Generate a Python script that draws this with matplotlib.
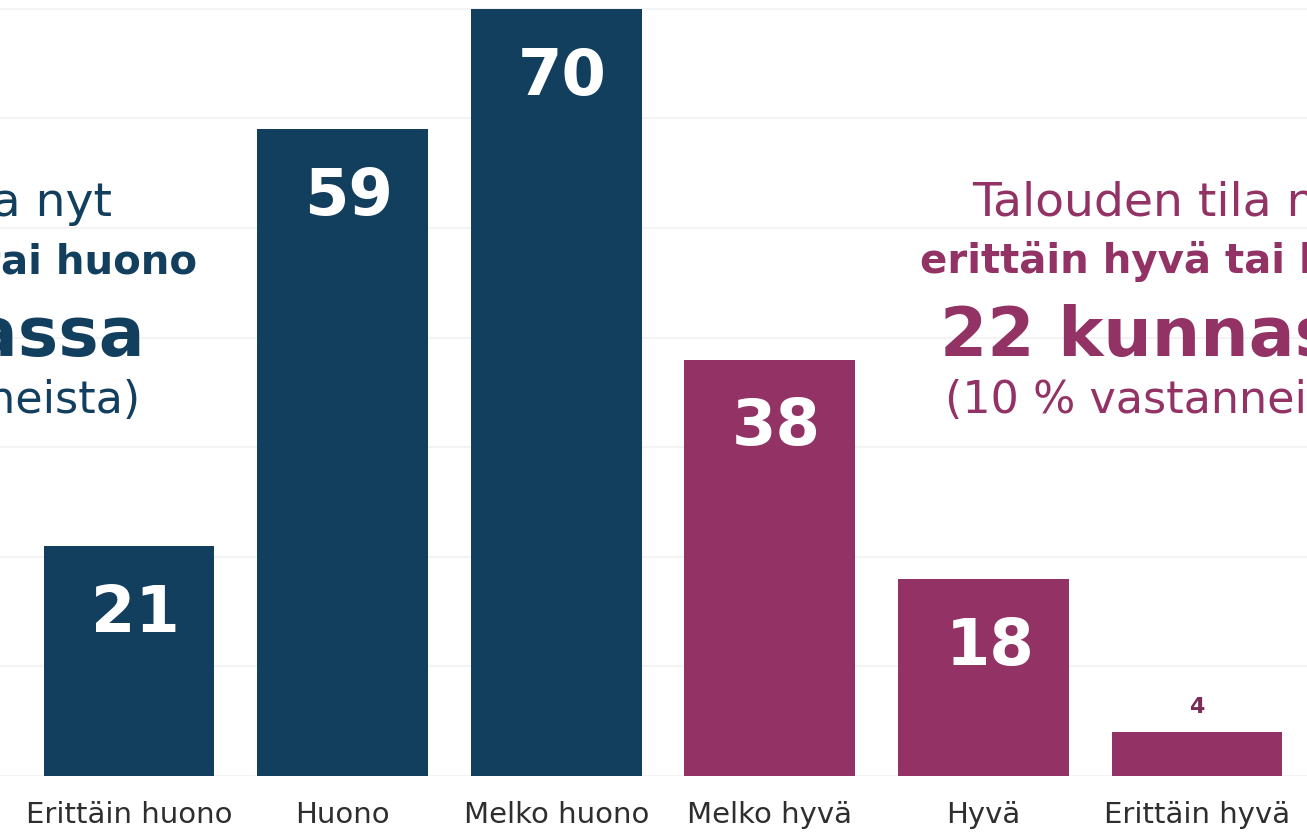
import matplotlib
matplotlib.use("Agg")
import matplotlib.pyplot as plt

categories = ["Erittäin huono", "Huono", "Melko huono", "Melko hyvä", "Hyvä", "Erittäin hyvä"]
values = [21, 59, 70, 38, 18, 4]
groups = ["neg", "neg", "neg", "pos", "pos", "pos"]

left_lines = ["Talouden tila nyt", "erittäin huono tai huono", "80 kunnassa", "(38 % vastanneista)"]
right_lines = ["Talouden tila nyt", "erittäin hyvä tai hyvä", "22 kunnassa", "(10 % vastanneista)"]

NAVY = "#133F5F"
PURPLE = "#923265"
colors = {"neg": NAVY, "pos": PURPLE}

W, H = 1307, 835
fig = plt.figure(figsize=(W / 100, H / 100), dpi=100)
ax = fig.add_axes([0, 1 - 776 / H, 1, 776 / H])

x = list(range(len(categories)))
ax.bar(x, values, width=0.8, color=[colors[g] for g in groups], zorder=3)

ax.set_xlim(-0.604, 5.515)
ax.set_ylim(0, 70.8)
ax.set_yticks(range(0, 71, 10))
ax.set_yticklabels([])
ax.yaxis.grid(True, color="#f3f3f3", linewidth=1.5, zorder=0)
ax.tick_params(axis="y", length=0)
ax.set_xticks(x)
ax.set_xticklabels(categories, fontsize=21, color="#2e2e2e", family="DejaVu Sans")
ax.tick_params(axis="x", length=0, pad=18)
for s in ax.spines.values():
    s.set_visible(False)

for xi, v, g in zip(x, values, groups):
    if v >= 10:
        ax.text(xi + 0.03, v - 6.2, str(v), ha="center", va="center", color="white",
                fontsize=46, fontweight="bold", family="DejaVu Sans", zorder=4)
    else:
        ax.text(xi, v + 2.3, str(v), ha="center", va="center", color="#7a2d55",
                fontsize=16, fontweight="bold", family="DejaVu Sans", zorder=4)

def fy(px):
    return 1 - px / H

fam = "DejaVu Sans"
specs = [  # (fontsize, weight, baseline px)
    (34, "normal", 216),
    (29, "bold", 273),
    (49, "bold", 356),
    (32, "normal", 413),
]
left_ends = [112, 197, 145, 140]
right_starts = [972, 920, 940, 945]

for line, (fs, fw, by), xe in zip(left_lines, specs, left_ends):
    fig.text(xe / W, fy(by), line, ha="right", va="baseline", fontsize=fs,
             fontweight=fw, color=NAVY, family=fam)
for line, (fs, fw, by), xs in zip(right_lines, specs, right_starts):
    fig.text(xs / W, fy(by), line, ha="left", va="baseline", fontsize=fs,
             fontweight=fw, color=PURPLE, family=fam)

fig.savefig("out.png", dpi=100)
